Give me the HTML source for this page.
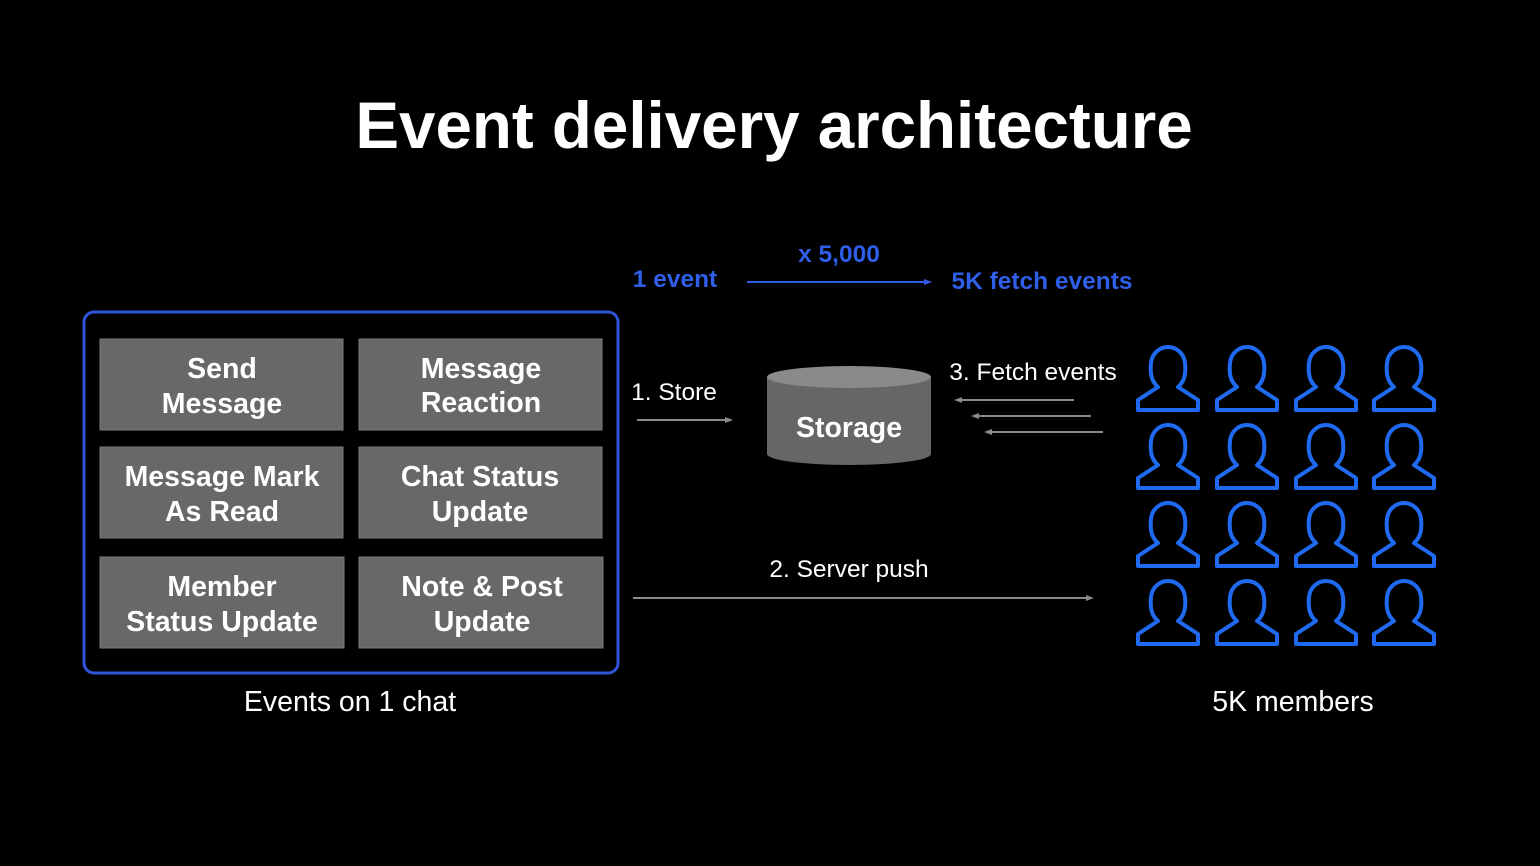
<!DOCTYPE html>
<html><head><meta charset="utf-8"><style>
body{margin:0;background:#000;width:1540px;height:866px;overflow:hidden;font-family:"Liberation Sans",sans-serif;}
svg{display:block}
</style></head><body>
<svg width="1540" height="866" viewBox="0 0 1540 866" xmlns="http://www.w3.org/2000/svg" font-family="Liberation Sans, sans-serif">
<rect width="1540" height="866" fill="#000"/>
<text x="774" y="148" fill="#fff" font-size="65.5" font-weight="bold" text-anchor="middle">Event delivery architecture</text>

<text x="675" y="287" fill="#2f5ee8" font-size="24.5" font-weight="bold" text-anchor="middle">1 event</text>
<text x="839" y="262" fill="#2f5ee8" font-size="24.5" font-weight="bold" text-anchor="middle">x 5,000</text>
<text x="1042" y="289" fill="#2f5ee8" font-size="24.5" font-weight="bold" text-anchor="middle">5K fetch events</text>
<line x1="747" y1="282" x2="926" y2="282" stroke="#2f5ee8" stroke-width="2"/>
<polygon points="932,282 924,279 924,285" fill="#2f5ee8"/>

<rect x="84" y="312" width="534" height="361" rx="10" fill="none" stroke="#2f54d8" stroke-width="3"/>
<g fill="#686868" stroke="#7a7a7a" stroke-width="1">
<rect x="100" y="339" width="243" height="91"/>
<rect x="359" y="339" width="243" height="91"/>
<rect x="100" y="447" width="243" height="91"/>
<rect x="359" y="447" width="243" height="91"/>
<rect x="100" y="557" width="244" height="91"/>
<rect x="359" y="557" width="244" height="91"/>
</g>
<g fill="#fff" font-size="28.5" font-weight="bold" text-anchor="middle">
<text x="222" y="378">Send</text><text x="222" y="413">Message</text>
<text x="481" y="378">Message</text><text x="481" y="412">Reaction</text>
<text x="222" y="486">Message Mark</text><text x="222" y="521">As Read</text>
<text x="480" y="486">Chat Status</text><text x="480" y="521">Update</text>
<text x="222" y="596">Member</text><text x="222" y="631">Status Update</text>
<text x="482" y="596">Note &amp; Post</text><text x="482" y="631">Update</text>
</g>
<text x="350" y="711" fill="#fff" font-size="28.5" text-anchor="middle">Events on 1 chat</text>
<text x="1293" y="711" fill="#fff" font-size="28.5" text-anchor="middle">5K members</text>

<text x="674" y="400" fill="#fff" font-size="24.5" text-anchor="middle">1. Store</text>
<line x1="637" y1="420" x2="727" y2="420" stroke="#8a8a8a" stroke-width="2"/>
<polygon points="733,420 725,417 725,423" fill="#8a8a8a"/>

<path d="M767,377 L767,454 A82,11 0 0 0 931,454 L931,377 Z" fill="#666"/>
<ellipse cx="849" cy="377" rx="82" ry="11" fill="#8a8a8a"/>
<text x="849" y="437" fill="#fff" font-size="28.5" font-weight="bold" text-anchor="middle">Storage</text>

<text x="1033" y="380" fill="#fff" font-size="24.5" text-anchor="middle">3. Fetch events</text>
<g stroke="#8a8a8a" stroke-width="2">
<line x1="960" y1="400" x2="1074" y2="400"/>
<line x1="977" y1="416" x2="1091" y2="416"/>
<line x1="990" y1="432" x2="1103" y2="432"/>
</g>
<g fill="#8a8a8a">
<polygon points="954,400 962,397 962,403"/>
<polygon points="971,416 979,413 979,419"/>
<polygon points="984,432 992,429 992,435"/>
</g>

<text x="849" y="577" fill="#fff" font-size="24.5" text-anchor="middle">2. Server push</text>
<line x1="633" y1="598" x2="1088" y2="598" stroke="#8a8a8a" stroke-width="2"/>
<polygon points="1094,598 1086,595 1086,601" fill="#8a8a8a"/>

<g fill="none" stroke="#1f6af0" stroke-width="4" stroke-linejoin="round">
<g>
<path transform="translate(1136,345)" d="M2,65 L2,55 L22,42 C15,36 14,28 15,18 C16,8 24,2 32,2 C40,2 48,8 49,18 C50,28 49,36 42,42 L62,55 L62,65 Z"/>
<path transform="translate(1215,345)" d="M2,65 L2,55 L22,42 C15,36 14,28 15,18 C16,8 24,2 32,2 C40,2 48,8 49,18 C50,28 49,36 42,42 L62,55 L62,65 Z"/>
<path transform="translate(1294,345)" d="M2,65 L2,55 L22,42 C15,36 14,28 15,18 C16,8 24,2 32,2 C40,2 48,8 49,18 C50,28 49,36 42,42 L62,55 L62,65 Z"/>
<path transform="translate(1372,345)" d="M2,65 L2,55 L22,42 C15,36 14,28 15,18 C16,8 24,2 32,2 C40,2 48,8 49,18 C50,28 49,36 42,42 L62,55 L62,65 Z"/>
</g>
<g transform="translate(0,78)">
<path transform="translate(1136,345)" d="M2,65 L2,55 L22,42 C15,36 14,28 15,18 C16,8 24,2 32,2 C40,2 48,8 49,18 C50,28 49,36 42,42 L62,55 L62,65 Z"/>
<path transform="translate(1215,345)" d="M2,65 L2,55 L22,42 C15,36 14,28 15,18 C16,8 24,2 32,2 C40,2 48,8 49,18 C50,28 49,36 42,42 L62,55 L62,65 Z"/>
<path transform="translate(1294,345)" d="M2,65 L2,55 L22,42 C15,36 14,28 15,18 C16,8 24,2 32,2 C40,2 48,8 49,18 C50,28 49,36 42,42 L62,55 L62,65 Z"/>
<path transform="translate(1372,345)" d="M2,65 L2,55 L22,42 C15,36 14,28 15,18 C16,8 24,2 32,2 C40,2 48,8 49,18 C50,28 49,36 42,42 L62,55 L62,65 Z"/>
</g>
<g transform="translate(0,156)">
<path transform="translate(1136,345)" d="M2,65 L2,55 L22,42 C15,36 14,28 15,18 C16,8 24,2 32,2 C40,2 48,8 49,18 C50,28 49,36 42,42 L62,55 L62,65 Z"/>
<path transform="translate(1215,345)" d="M2,65 L2,55 L22,42 C15,36 14,28 15,18 C16,8 24,2 32,2 C40,2 48,8 49,18 C50,28 49,36 42,42 L62,55 L62,65 Z"/>
<path transform="translate(1294,345)" d="M2,65 L2,55 L22,42 C15,36 14,28 15,18 C16,8 24,2 32,2 C40,2 48,8 49,18 C50,28 49,36 42,42 L62,55 L62,65 Z"/>
<path transform="translate(1372,345)" d="M2,65 L2,55 L22,42 C15,36 14,28 15,18 C16,8 24,2 32,2 C40,2 48,8 49,18 C50,28 49,36 42,42 L62,55 L62,65 Z"/>
</g>
<g transform="translate(0,234)">
<path transform="translate(1136,345)" d="M2,65 L2,55 L22,42 C15,36 14,28 15,18 C16,8 24,2 32,2 C40,2 48,8 49,18 C50,28 49,36 42,42 L62,55 L62,65 Z"/>
<path transform="translate(1215,345)" d="M2,65 L2,55 L22,42 C15,36 14,28 15,18 C16,8 24,2 32,2 C40,2 48,8 49,18 C50,28 49,36 42,42 L62,55 L62,65 Z"/>
<path transform="translate(1294,345)" d="M2,65 L2,55 L22,42 C15,36 14,28 15,18 C16,8 24,2 32,2 C40,2 48,8 49,18 C50,28 49,36 42,42 L62,55 L62,65 Z"/>
<path transform="translate(1372,345)" d="M2,65 L2,55 L22,42 C15,36 14,28 15,18 C16,8 24,2 32,2 C40,2 48,8 49,18 C50,28 49,36 42,42 L62,55 L62,65 Z"/>
</g>
</g>
</svg>
</body></html>
